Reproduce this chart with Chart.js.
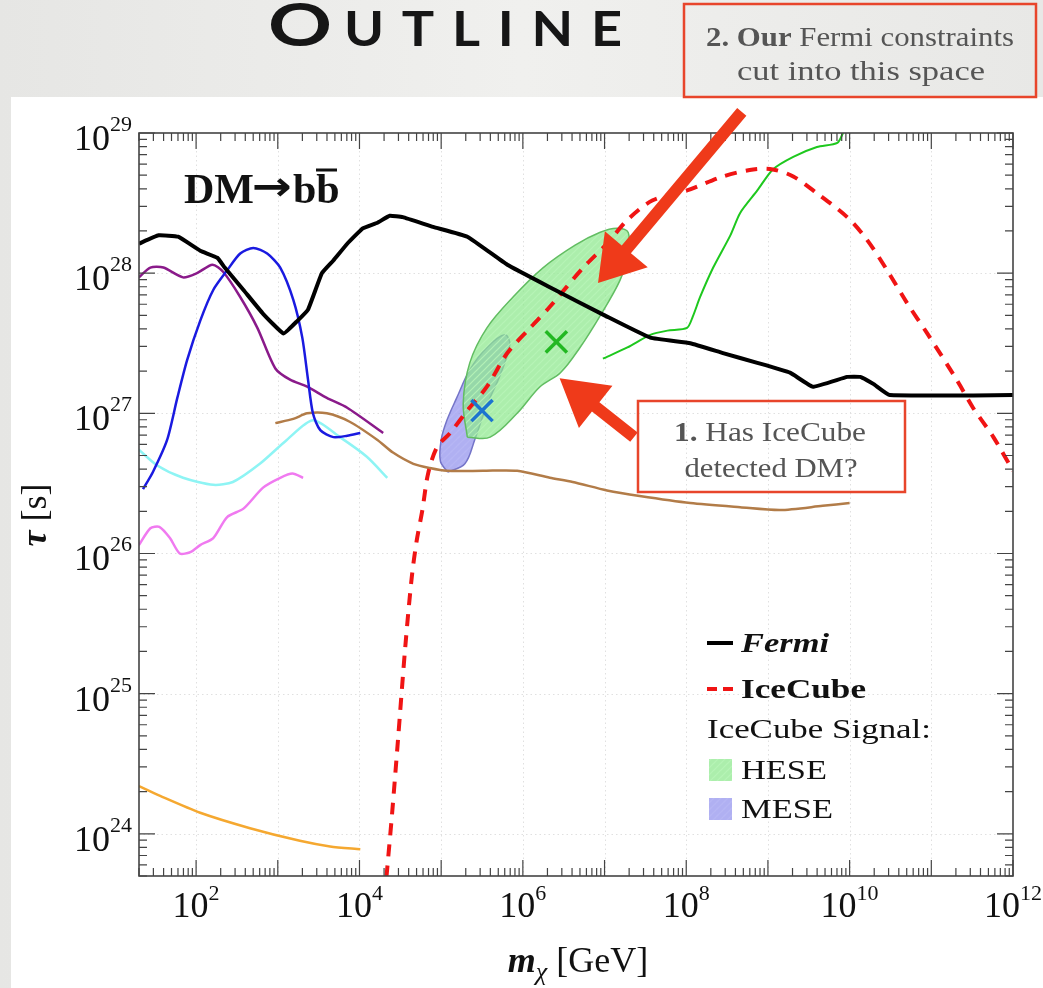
<!DOCTYPE html>
<html>
<head>
<meta charset="utf-8">
<script src="https://cdn.jsdelivr.net/npm/chart.js@4.4.1/dist/chart.umd.min.js"></script>
<style>
  html, body { margin: 0; padding: 0; background: #ebebe9; overflow: hidden; }
  canvas { display: block; }
</style>
</head>
<body>
<canvas id="chart" width="1043" height="988"></canvas>
<script>
// Values, kept as log10 exponents: log10(m / GeV) and log10(tau / s)
const fermiLogM = [1.30, 1.54, 1.78, 2.05, 2.26, 2.35, 2.58, 2.82, 3.07, 3.24, 3.37, 3.54, 3.68, 3.85, 4.04, 4.22, 4.37, 4.53, 4.90, 5.32, 5.81, 6.33, 7.03, 7.56, 8.05, 8.45, 8.87, 9.27, 9.55, 9.97, 10.13, 10.29, 10.49, 12.0];
const fermiLogTau = [28.21, 28.27, 28.26, 28.16, 28.11, 28.04, 27.88, 27.71, 27.57, 27.66, 27.74, 28.00, 28.09, 28.21, 28.32, 28.36, 28.41, 28.40, 28.33, 28.26, 28.06, 27.90, 27.69, 27.54, 27.50, 27.43, 27.36, 27.29, 27.19, 27.26, 27.26, 27.21, 27.13, 27.13];

const icecubeLogM = [4.33, 4.40, 4.47, 4.56, 4.64, 4.70, 4.77, 4.84, 4.95, 5.11, 5.32, 5.56, 5.81, 6.09, 6.33, 6.74, 7.03, 7.28, 7.59, 8.01, 8.45, 8.82, 9.06, 9.31, 9.60, 9.97, 10.21, 10.46, 10.70, 10.95, 11.31, 11.51, 11.76, 12.0];
const icecubeLogTau = [23.69, 24.15, 24.66, 25.33, 25.83, 26.09, 26.31, 26.57, 26.76, 26.86, 27.02, 27.19, 27.43, 27.61, 27.76, 28.04, 28.21, 28.38, 28.52, 28.59, 28.69, 28.74, 28.74, 28.69, 28.57, 28.40, 28.24, 28.02, 27.79, 27.57, 27.24, 27.04, 26.83, 26.59];

const greenLogM = [6.98, 7.28, 7.56, 7.77, 8.01, 8.08, 8.17, 8.33, 8.54, 8.66, 8.87, 9.06, 9.31, 9.60, 9.85, 9.92];
const greenLogTau = [27.39, 27.47, 27.56, 27.59, 27.61, 27.69, 27.83, 28.04, 28.27, 28.43, 28.59, 28.74, 28.83, 28.90, 28.93, 29.0];

const blueLogM = [1.35, 1.47, 1.645, 1.77, 1.89, 2.05, 2.21, 2.38, 2.54, 2.70, 2.87, 3.03, 3.19, 3.30, 3.37, 3.43, 3.52, 3.68, 3.85, 4.01];
const blueLogTau = [26.46, 26.58, 26.81, 27.11, 27.38, 27.66, 27.88, 28.02, 28.14, 28.18, 28.14, 28.04, 27.81, 27.54, 27.24, 27.00, 26.88, 26.83, 26.84, 26.86];

const purpleLogM = [1.30, 1.44, 1.60, 1.84, 2.01, 2.20, 2.33, 2.54, 2.75, 2.97, 3.15, 3.36, 3.60, 3.85, 4.29];
const purpleLogTau = [27.97, 28.04, 28.04, 27.97, 28.00, 28.06, 28.01, 27.83, 27.61, 27.32, 27.24, 27.19, 27.11, 27.04, 26.86];

const brownLogM = [2.97, 3.19, 3.36, 3.60, 3.88, 4.22, 4.41, 4.66, 4.86, 5.07, 5.51, 5.93, 6.33, 6.61, 7.03, 7.43, 8.05, 8.66, 9.15, 9.67, 10.0];
const brownLogTau = [26.93, 26.96, 27.00, 27.00, 26.94, 26.81, 26.72, 26.64, 26.61, 26.59, 26.59, 26.59, 26.54, 26.51, 26.45, 26.41, 26.36, 26.33, 26.31, 26.34, 26.36];

const cyanLogM = [1.30, 1.52, 1.84, 2.21, 2.45, 2.78, 3.11, 3.43, 3.76, 4.09, 4.34];
const cyanLogTau = [26.74, 26.63, 26.54, 26.49, 26.51, 26.64, 26.81, 26.95, 26.83, 26.69, 26.54];

const magentaLogM = [1.30, 1.44, 1.55, 1.68, 1.80, 1.93, 2.05, 2.21, 2.38, 2.58, 2.82, 3.03, 3.18, 3.31];
const magentaLogTau = [26.06, 26.18, 26.19, 26.11, 26.00, 26.01, 26.06, 26.11, 26.26, 26.32, 26.47, 26.54, 26.57, 26.54];

const orangeLogM = [1.30, 1.56, 2.05, 2.66, 3.27, 3.64, 4.01];
const orangeLogTau = [24.34, 24.27, 24.15, 24.04, 23.95, 23.91, 23.89];

// signal regions (closed outlines)
const heseLogM = [5.32, 5.27, 5.35, 5.56, 5.88, 6.25, 6.64, 6.94, 7.15, 7.29, 7.28, 7.19, 6.94, 6.70, 6.46, 6.21, 5.93, 5.60, 5.32];
const heseLogTau = [26.83, 27.07, 27.36, 27.61, 27.83, 28.04, 28.20, 28.29, 28.32, 28.29, 28.13, 27.95, 27.69, 27.47, 27.29, 27.19, 27.00, 26.83, 26.83];
const meseLogM = [5.08, 4.99, 5.00, 5.07, 5.19, 5.35, 5.56, 5.78, 5.84, 5.72, 5.56, 5.41, 5.29, 5.08];
const meseLogTau = [26.58, 26.66, 26.81, 26.95, 27.11, 27.31, 27.47, 27.56, 27.49, 27.27, 27.06, 26.81, 26.64, 26.58];

// best-fit points
const meseBestLogM = [5.50];
const meseBestLogTau = [27.02];
const heseBestLogM = [6.41];
const heseBestLogTau = [27.51];

// axes
const xTickExponents = [2, 4, 6, 8, 10, 12];
const yTickExponents = [24, 25, 26, 27, 28, 29];
const X_MIN = 20, X_MAX = 1e12;
const Y_MIN = 5e23, Y_MAX = 1e29;

function toPoints(logM, logTau) {
  return logM.map((v, i) => ({ x: Math.pow(10, v), y: Math.pow(10, logTau[i]) }));
}

const canvas = document.getElementById('chart');
const ctx = canvas.getContext('2d');

function hatch(base, stripe) {
  const c = document.createElement('canvas');
  c.width = 7; c.height = 7;
  const g = c.getContext('2d');
  g.fillStyle = base;
  g.fillRect(0, 0, 7, 7);
  g.strokeStyle = stripe;
  g.lineWidth = 1.2;
  g.beginPath();
  g.moveTo(0, 7); g.lineTo(7, 0);
  g.moveTo(-1, 1); g.lineTo(1, -1);
  g.moveTo(6, 8); g.lineTo(8, 6);
  g.stroke();
  return ctx.createPattern(c, 'repeat');
}

function line(label, logM, logTau, color, width, extra) {
  return Object.assign({
    label,
    data: toPoints(logM, logTau),
    showLine: true,
    borderColor: color,
    borderWidth: width,
    pointRadius: 0,
    tension: 0.25,
    fill: false
  }, extra || {});
}

// draws a row of text runs, optionally stretched to a given width
function drawRuns(c, runs, x, y, align, width) {
  let w = 0;
  runs.forEach(r => { c.font = r.font; r.w = c.measureText(r.text).width; w += r.w; });
  const sx = width ? width / w : 1;
  const x0 = align === 'center' ? x - w * sx / 2 : align === 'right' ? x - w * sx : x;
  c.save();
  c.translate(x0, y);
  c.scale(sx, 1);
  c.textAlign = 'left';
  c.textBaseline = 'alphabetic';
  let cx = 0;
  runs.forEach(r => {
    c.font = r.font;
    c.fillText(r.text, cx, r.dy || 0);
    cx += r.w;
  });
  c.restore();
}

function arrow(c, tail, tip, headLen, headHalf, shaft) {
  const dx = tip.x - tail.x, dy = tip.y - tail.y;
  const len = Math.hypot(dx, dy);
  const ux = dx / len, uy = dy / len, nx = -uy, ny = ux;
  const bx = tip.x - ux * headLen, by = tip.y - uy * headLen;
  c.beginPath();
  c.moveTo(tail.x + nx * shaft / 2, tail.y + ny * shaft / 2);
  c.lineTo(bx + nx * shaft / 2, by + ny * shaft / 2);
  c.lineTo(bx + nx * headHalf, by + ny * headHalf);
  c.lineTo(tip.x, tip.y);
  c.lineTo(bx - nx * headHalf, by - ny * headHalf);
  c.lineTo(bx - nx * shaft / 2, by - ny * shaft / 2);
  c.lineTo(tail.x - nx * shaft / 2, tail.y - ny * shaft / 2);
  c.closePath();
  c.fill();
}

const SERIF = '"Liberation Serif", "Times New Roman", serif';

const decorations = {
  id: 'decorations',
  beforeDraw(chart) {
    const c = chart.ctx;
    const { x, y } = chart.scales;
    const a = chart.chartArea;
    c.save();
    const bg = c.createLinearGradient(0, 0, chart.width, 0);
    bg.addColorStop(0, '#e6e6e4');
    bg.addColorStop(0.5, '#f0f0ee');
    bg.addColorStop(1, '#e8e8e6');
    c.fillStyle = bg;
    c.fillRect(0, 0, chart.width, chart.height);
    c.fillStyle = '#ffffff';
    c.fillRect(11, 97, chart.width - 11, chart.height - 97);

    // faint dotted decade grid
    c.strokeStyle = '#e0e0e0';
    c.lineWidth = 1;
    c.setLineDash([1.5, 3]);
    for (let e = 2; e <= 11; e++) {
      const px = Math.round(x.getPixelForValue(Math.pow(10, e))) + 0.5;
      c.beginPath(); c.moveTo(px, a.top); c.lineTo(px, a.bottom); c.stroke();
    }
    for (let e = 24; e <= 28; e++) {
      const py = Math.round(y.getPixelForValue(Math.pow(10, e))) + 0.5;
      c.beginPath(); c.moveTo(a.left, py); c.lineTo(a.right, py); c.stroke();
    }
    c.restore();
  },
  afterDraw(chart) {
    const c = chart.ctx;
    const { x, y } = chart.scales;
    const a = chart.chartArea;
    c.save();

    // frame and inward ticks on all sides
    c.strokeStyle = '#444';
    c.lineWidth = 1.6;
    c.strokeRect(a.left, a.top, a.right - a.left, a.bottom - a.top);
    c.lineWidth = 1.2;
    c.beginPath();
    for (let e = 1; e <= 12; e++) {
      for (let k = 1; k <= 9; k++) {
        const v = k * Math.pow(10, e);
        if (v < X_MIN || v > X_MAX) continue;
        const px = x.getPixelForValue(v);
        const len = k === 1 ? 16 : 8;
        c.moveTo(px, a.bottom); c.lineTo(px, a.bottom - len);
        c.moveTo(px, a.top); c.lineTo(px, a.top + len);
      }
    }
    for (let e = 23; e <= 29; e++) {
      for (let k = 1; k <= 9; k++) {
        const v = k * Math.pow(10, e);
        if (v < Y_MIN || v > Y_MAX) continue;
        const py = y.getPixelForValue(v);
        const len = k === 1 ? 16 : 8;
        c.moveTo(a.left, py); c.lineTo(a.left + len, py);
        c.moveTo(a.right, py); c.lineTo(a.right - len, py);
      }
    }
    c.stroke();

    // tick labels
    c.fillStyle = '#111';
    const baseFont = '36px ' + SERIF;
    const expFont = '22px ' + SERIF;
    xTickExponents.forEach(e => {
      const px = x.getPixelForValue(Math.pow(10, e));
      drawRuns(c, [{ text: '10', font: baseFont }, { text: String(e), font: expFont, dy: -17 }], px, 917, 'center');
    });
    yTickExponents.forEach(e => {
      const py = y.getPixelForValue(Math.pow(10, e));
      drawRuns(c, [{ text: '10', font: baseFont }, { text: String(e), font: expFont, dy: -19 }], 132, py + 17, 'right');
    });

    // axis titles
    drawRuns(c, [
      { text: 'm', font: 'bold italic 36px ' + SERIF },
      { text: 'χ', font: 'italic 26px ' + SERIF, dy: 8 },
      { text: ' [GeV]', font: '36px ' + SERIF }
    ], 578, 972, 'center');
    c.save();
    c.translate(46, 515);
    c.rotate(-Math.PI / 2);
    drawRuns(c, [
      { text: 'τ', font: 'bold italic 36px ' + SERIF },
      { text: ' [s]', font: '36px ' + SERIF }
    ], 0, 0, 'center');
    c.restore();

    // process label
    drawRuns(c, [{ text: 'DM', font: 'bold 42px ' + SERIF }], 184, 203, 'left');
    drawRuns(c, [{ text: '→', font: 'bold 40px "DejaVu Sans", sans-serif' }], 252, 200, 'left', 40);
    drawRuns(c, [{ text: 'bb', font: 'bold 42px ' + SERIF }], 293, 203, 'left');
    c.strokeStyle = '#111';
    c.lineWidth = 3;
    c.beginPath(); c.moveTo(316, 170); c.lineTo(337, 170); c.stroke();

    // legend
    c.strokeStyle = '#000';
    c.lineWidth = 4;
    c.beginPath(); c.moveTo(707, 643); c.lineTo(733, 643); c.stroke();
    c.strokeStyle = '#f01414';
    c.beginPath(); c.moveTo(707, 689); c.lineTo(717, 689); c.moveTo(723, 689); c.lineTo(733, 689); c.stroke();
    c.fillStyle = '#111';
    drawRuns(c, [{ text: 'Fermi', font: 'bold italic 28px ' + SERIF }], 741, 652, 'left', 88);
    drawRuns(c, [{ text: 'IceCube', font: 'bold 28px ' + SERIF }], 741, 698, 'left', 125);
    drawRuns(c, [{ text: 'IceCube Signal:', font: '28px ' + SERIF }], 707, 738, 'left', 224);
    c.fillStyle = chart.$heseFill;
    c.fillRect(709, 759, 23, 22);
    c.fillStyle = chart.$meseFill;
    c.fillRect(709, 798, 23, 22);
    c.fillStyle = '#111';
    drawRuns(c, [{ text: 'HESE', font: '28px ' + SERIF }], 741, 779, 'left', 86);
    drawRuns(c, [{ text: 'MESE', font: '28px ' + SERIF }], 741, 818, 'left', 92);

    // slide title
    c.fillStyle = '#161616';
    drawRuns(c, [{ text: 'O', font: 'bold 60px Lato, sans-serif' }], 268, 46, 'left', 64);
    const rest = 'UTLINE';
    const tFont = 'bold 47px Lato, sans-serif';
    c.font = tFont;
    const span = 622 - 344;
    const widths = rest.split('').map(ch => c.measureText(ch).width * 1.15);
    const gap = (span - widths.reduce((s, w) => s + w, 0)) / (rest.length - 1);
    let lx = 344;
    rest.split('').forEach((ch, i) => {
      drawRuns(c, [{ text: ch, font: tFont }], lx, 46, 'left', widths[i]);
      lx += widths[i] + gap;
    });

    // callout arrows (anchored in data space)
    c.fillStyle = '#ef3a1a';
    const P = (lm, lt) => ({ x: x.getPixelForValue(Math.pow(10, lm)), y: y.getPixelForValue(Math.pow(10, lt)) });
    arrow(c, P(8.68, 29.15), P(6.92, 27.93), 44, 28, 12);
    arrow(c, P(7.36, 26.83), P(6.45, 27.25), 46, 27, 12);

    // callout boxes
    c.strokeStyle = '#e8452b';
    c.lineWidth = 2.5;
    c.strokeRect(684, 4, 352, 93);
    c.strokeRect(638, 401, 267, 91);
    c.fillStyle = '#555';
    drawRuns(c, [
      { text: '2. Our', font: 'bold 27px ' + SERIF },
      { text: ' Fermi constraints', font: '27px ' + SERIF }
    ], 860, 46, 'center', 308);
    drawRuns(c, [{ text: 'cut into this space', font: '27px ' + SERIF }], 861, 80, 'center', 248);
    drawRuns(c, [
      { text: '1.', font: 'bold 27px ' + SERIF },
      { text: ' Has IceCube', font: '27px ' + SERIF }
    ], 770, 441, 'center', 192);
    drawRuns(c, [{ text: 'detected DM?', font: '27px ' + SERIF }], 771, 477, 'center', 173);

    c.restore();
  }
};

const heseFill = hatch('rgba(140, 232, 140, 0.72)', 'rgba(185, 245, 185, 0.85)');
const meseFill = hatch('rgba(150, 150, 238, 0.75)', 'rgba(185, 185, 245, 0.85)');

const chart = new Chart(ctx, {
  type: 'scatter',
  data: {
    datasets: [
      { label: 'MESE best fit', data: toPoints(meseBestLogM, meseBestLogTau), pointStyle: 'crossRot', pointRadius: 15, pointBorderWidth: 3.5, borderColor: '#1c74d0', backgroundColor: '#1c74d0' },
      { label: 'HESE best fit', data: toPoints(heseBestLogM, heseBestLogTau), pointStyle: 'crossRot', pointRadius: 15, pointBorderWidth: 3.5, borderColor: '#22b822', backgroundColor: '#22b822' },
      line('Fermi', fermiLogM, fermiLogTau, '#000000', 4, { tension: 0.1 }),
      line('IceCube', icecubeLogM, icecubeLogTau, '#f01414', 4, { borderDash: [12, 9], tension: 0.3 }),
      line('green', greenLogM, greenLogTau, '#1ec81e', 2),
      line('blue', blueLogM, blueLogTau, '#1a1ae0', 2.5),
      line('purple', purpleLogM, purpleLogTau, '#8a1a8a', 2.5),
      line('brown', brownLogM, brownLogTau, '#b27c48', 2.5),
      line('cyan', cyanLogM, cyanLogTau, '#8ef4f4', 2.5),
      line('magenta', magentaLogM, magentaLogTau, '#f07af0', 2.5),
      line('orange', orangeLogM, orangeLogTau, '#f5a830', 2.5),
      line('HESE', heseLogM, heseLogTau, '#62bd62', 1.5, { fill: 'shape', backgroundColor: heseFill, tension: 0.35 }),
      line('MESE', meseLogM, meseLogTau, '#7474c8', 1.5, { fill: 'shape', backgroundColor: meseFill, tension: 0.35 })
    ]
  },
  options: {
    responsive: false,
    animation: false,
    events: [],
    layout: { padding: { left: 139, top: 133, right: 30, bottom: 112 } },
    scales: {
      x: { type: 'logarithmic', min: X_MIN, max: X_MAX, display: false },
      y: { type: 'logarithmic', min: Y_MIN, max: Y_MAX, display: false }
    },
    plugins: {
      legend: { display: false },
      tooltip: { enabled: false }
    }
  },
  plugins: [decorations]
});
chart.$heseFill = heseFill;
chart.$meseFill = meseFill;
chart.draw();
</script>
</body>
</html>
